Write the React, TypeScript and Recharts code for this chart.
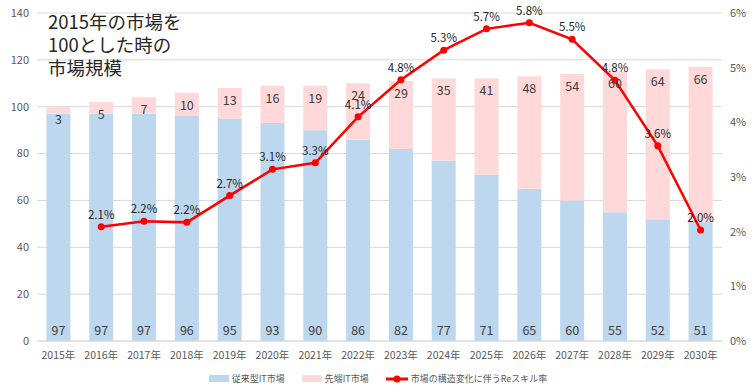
import {
  ComposedChart,
  Bar,
  Line,
  XAxis,
  YAxis,
  CartesianGrid,
  LabelList,
  Legend,
} from 'recharts'

const years = ['2015年', '2016年', '2017年', '2018年', '2019年', '2020年', '2021年', '2022年', '2023年', '2024年', '2025年', '2026年', '2027年', '2028年', '2029年', '2030年']
const legacyMarket = [97, 97, 97, 96, 95, 93, 90, 86, 82, 77, 71, 65, 60, 55, 52, 51]
const advancedMarket = [3, 5, 7, 10, 13, 16, 19, 24, 29, 35, 41, 48, 54, 60, 64, 66]
const reskillRate = [null, 2.09, 2.19, 2.17, 2.66, 3.14, 3.26, 4.1, 4.78, 5.32, 5.71, 5.82, 5.52, 4.77, 3.57, 2.03]
const leftTicks = [0, 20, 40, 60, 80, 100, 120, 140]
const rightTicks = [0, 1, 2, 3, 4, 5, 6]

const BLUE = '#bdd7ee'
const PINK = '#ffd9d9'
const RED = '#ff0000'
const TEXT = '#595959'
const FONT = '"Noto Sans CJK JP", "Noto Sans", sans-serif'

const data = years.map((year, i) => ({
  year,
  legacy: legacyMarket[i],
  advanced: advancedMarket[i],
  rate: reskillRate[i],
}))

const legendItems = [
  { label: '従来型IT市場', kind: 'box', color: BLUE },
  { label: '先端IT市場', kind: 'box', color: PINK },
  { label: '市場の構造変化に伴うReスキル率', kind: 'line', color: RED },
]

function ChartLegend() {
  return (
    <div style={{ display: 'flex', justifyContent: 'center', gap: 17, fontSize: 9, color: TEXT, fontFamily: FONT, paddingTop: 3 }}>
      {legendItems.map((item) => (
        <div key={item.label} style={{ display: 'flex', alignItems: 'center', gap: 3 }}>
          {item.kind === 'box' ? (
            <span style={{ display: 'inline-block', width: 20, height: 7, background: item.color }} />
          ) : (
            <svg width={22} height={8}>
              <line x1={0} y1={4} x2={22} y2={4} stroke={item.color} strokeWidth={3} />
              <circle cx={11} cy={4} r={3.5} fill={item.color} />
            </svg>
          )}
          <span>{item.label}</span>
        </div>
      ))}
    </div>
  )
}

export default function App() {
  return (
    <div style={{ position: 'fixed', left: 0, top: 0, width: 756, height: 389, background: '#fff', fontFamily: FONT }}>
      <ComposedChart
        width={756}
        height={389}
        data={data}
        margin={{ top: 13, right: 0, bottom: 0, left: 0 }}
        barCategoryGap="22%"
      >
        <CartesianGrid vertical={false} stroke="#d9d9d9" yAxisId="left" />
        <XAxis
          dataKey="year"
          tick={{ fill: TEXT, fontSize: 10.5, dy: 3 }}
          tickLine={false}
          axisLine={{ stroke: '#d9d9d9' }}
          height={28}
          interval={0}
        />
        <YAxis
          yAxisId="left"
          domain={[0, 140]}
          ticks={leftTicks}
          tick={{ fill: TEXT, fontSize: 11 }}
          tickLine={false}
          axisLine={false}
          width={37}
        />
        <YAxis
          yAxisId="right"
          orientation="right"
          domain={[0, 6]}
          ticks={rightTicks}
          tickFormatter={(v) => `${v}%`}
          tick={{ fill: TEXT, fontSize: 11 }}
          tickLine={false}
          axisLine={false}
          width={34}
        />
        <Legend verticalAlign="bottom" height={20} content={() => <ChartLegend />} />
        <Bar yAxisId="left" dataKey="legacy" stackId="m" fill={BLUE} isAnimationActive={false}>
          <LabelList dataKey="legacy" position="insideBottom" offset={6} fill="#404040" fontSize={12.5} />
        </Bar>
        <Bar yAxisId="left" dataKey="advanced" stackId="m" fill={PINK} isAnimationActive={false}>
          <LabelList dataKey="advanced" position="insideTop" offset={8} fill="#404040" fontSize={12.5} />
        </Bar>
        <Line
          yAxisId="right"
          dataKey="rate"
          stroke={RED}
          strokeWidth={2.5}
          dot={{ r: 3.5, fill: RED, stroke: RED, strokeWidth: 0 }}
          connectNulls={false}
          isAnimationActive={false}
        >
          <LabelList
            dataKey="rate"
            position="top"
            offset={8}
            fill="#262626"
            fontSize={11.5}
            formatter={(v: any) => (v == null ? '' : `${Number(v).toFixed(1)}%`)}
          />
        </Line>
      </ComposedChart>
      <div style={{ position: 'absolute', left: 48, top: 10, fontSize: 18.5, lineHeight: '23px', color: '#262626' }}>
        2015年の市場を<br />100とした時の<br />市場規模
      </div>
    </div>
  )
}
